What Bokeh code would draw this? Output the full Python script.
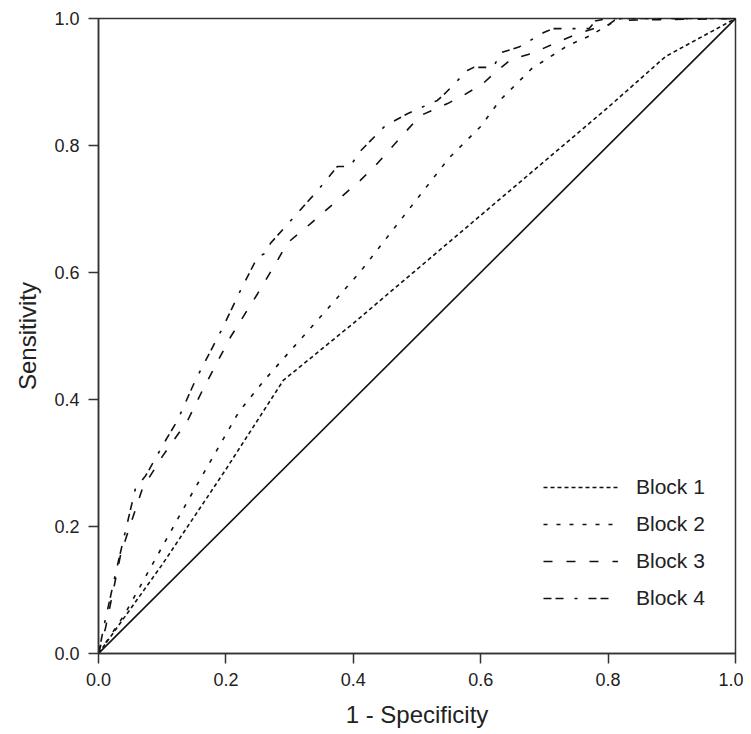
from bokeh.plotting import figure
from bokeh.models import Range1d, Legend, LegendItem, FixedTicker, NumeralTickFormatter
from bokeh.embed import file_html
from bokeh.resources import INLINE

# Reference diagonal
diag_x = [0.0, 1.0]
diag_y = [0.0, 1.0]

# Block 1 (fine dotted)
b1_x = [0.0, 0.05, 0.10, 0.20, 0.29, 0.40, 0.60, 0.80, 0.89, 1.0]
b1_y = [0.0, 0.07, 0.14, 0.29, 0.43, 0.52, 0.69, 0.86, 0.94, 1.0]

# Block 2 (sparse dotted)
b2_x = [0.0, 0.04, 0.14, 0.22, 0.26, 0.41, 0.55, 0.60, 0.63, 0.68, 0.736, 0.772, 0.804, 0.82, 1.0]
b2_y = [0.0, 0.06, 0.24, 0.38, 0.43, 0.60, 0.78, 0.83, 0.871, 0.921, 0.957, 0.973, 0.992, 1.0, 1.0]

# Block 3 (long dashes)
b3_x = [0.0, 0.011, 0.035, 0.069, 0.10, 0.14, 0.163, 0.207, 0.25, 0.281, 0.296, 0.333, 0.38, 0.411,
        0.438, 0.487, 0.505, 0.548, 0.573, 0.604, 0.626, 0.647, 0.683, 0.714, 0.752, 0.777, 0.799,
        0.81, 1.0]
b3_y = [0.0, 0.04, 0.157, 0.26, 0.31, 0.367, 0.414, 0.498, 0.567, 0.619, 0.646, 0.677, 0.718, 0.745,
        0.772, 0.827, 0.847, 0.866, 0.879, 0.898, 0.918, 0.935, 0.946, 0.96, 0.976, 0.984, 0.989,
        0.997, 1.0]

# Block 4 (dash-dot)
b4_x = [0.0, 0.01, 0.03, 0.058, 0.074, 0.105, 0.124, 0.152, 0.195, 0.223, 0.25, 0.262, 0.27, 0.344,
        0.375, 0.395, 0.41, 0.45, 0.485, 0.532, 0.545, 0.579, 0.589, 0.62, 0.631, 0.66, 0.699, 0.714,
        0.77, 0.78, 0.80, 1.0]
b4_y = [0.0, 0.05, 0.14, 0.26, 0.28, 0.335, 0.367, 0.43, 0.513, 0.572, 0.625, 0.63, 0.646, 0.729,
        0.767, 0.767, 0.79, 0.831, 0.85, 0.871, 0.883, 0.918, 0.923, 0.923, 0.946, 0.955, 0.978, 0.984,
        0.984, 0.996, 1.0, 1.0]

ticks = [0.0, 0.2, 0.4, 0.6, 0.8, 1.0]
labels = ["Block 1", "Block 2", "Block 3", "Block 4"]

FONT = "Liberation Sans"
INK = "#222222"

p = figure(width=743, height=733, output_backend="svg", toolbar_location=None,
           x_range=Range1d(0, 1), y_range=Range1d(0, 1),
           min_border_left=98, min_border_right=8, min_border_top=18, min_border_bottom=80)
p.xgrid.visible = False
p.ygrid.visible = False
p.outline_line_color = "#333333"
p.outline_line_width = 1.5
p.background_fill_color = "white"
p.border_fill_color = "white"

lw = 1.6
p.line(diag_x, diag_y, line_color="#111111", line_width=lw)
r1 = p.line(b1_x, b1_y, line_color="#111111", line_width=lw, line_dash="4 3")
r2 = p.line(b2_x, b2_y, line_color="#111111", line_width=lw, line_dash="4 9")
r3 = p.line(b3_x, b3_y, line_color="#111111", line_width=lw, line_dash="9 14")
r4 = p.line(b4_x, b4_y, line_color="#111111", line_width=lw, line_dash="8 4 8 11 3 11")

for ax in (p.xaxis[0], p.yaxis[0]):
    ax.ticker = FixedTicker(ticks=ticks)
    ax.formatter = NumeralTickFormatter(format="0.0")
    ax.minor_tick_line_color = None
    ax.major_tick_out = 10
    ax.major_tick_in = 0
    ax.axis_line_color = "#333333"
    ax.axis_line_width = 1.5
    ax.major_tick_line_color = "#333333"
    ax.major_tick_line_width = 1.5
    ax.major_label_text_font = FONT
    ax.major_label_text_font_size = "18px"
    ax.major_label_text_color = INK
    ax.major_label_standoff = 9
    ax.axis_label_text_font = FONT
    ax.axis_label_text_font_size = "24px"
    ax.axis_label_text_font_style = "normal"
    ax.axis_label_text_color = INK

p.xaxis.axis_label = "1 - Specificity"
p.yaxis.axis_label = "Sensitivity"
p.xaxis.axis_label_standoff = 12
p.yaxis.axis_label_standoff = 10

legend = Legend(items=[LegendItem(label=labels[0], renderers=[r1]),
                       LegendItem(label=labels[1], renderers=[r2]),
                       LegendItem(label=labels[2], renderers=[r3]),
                       LegendItem(label=labels[3], renderers=[r4])],
                location=(445, 43), border_line_color=None, background_fill_alpha=0,
                padding=0, margin=0, spacing=13, glyph_width=75, glyph_height=24,
                label_height=24, label_standoff=18,
                label_text_font=FONT, label_text_font_size="21px", label_text_color=INK)
p.add_layout(legend, "center")

open("out.html", "w").write(file_html(p, INLINE))
